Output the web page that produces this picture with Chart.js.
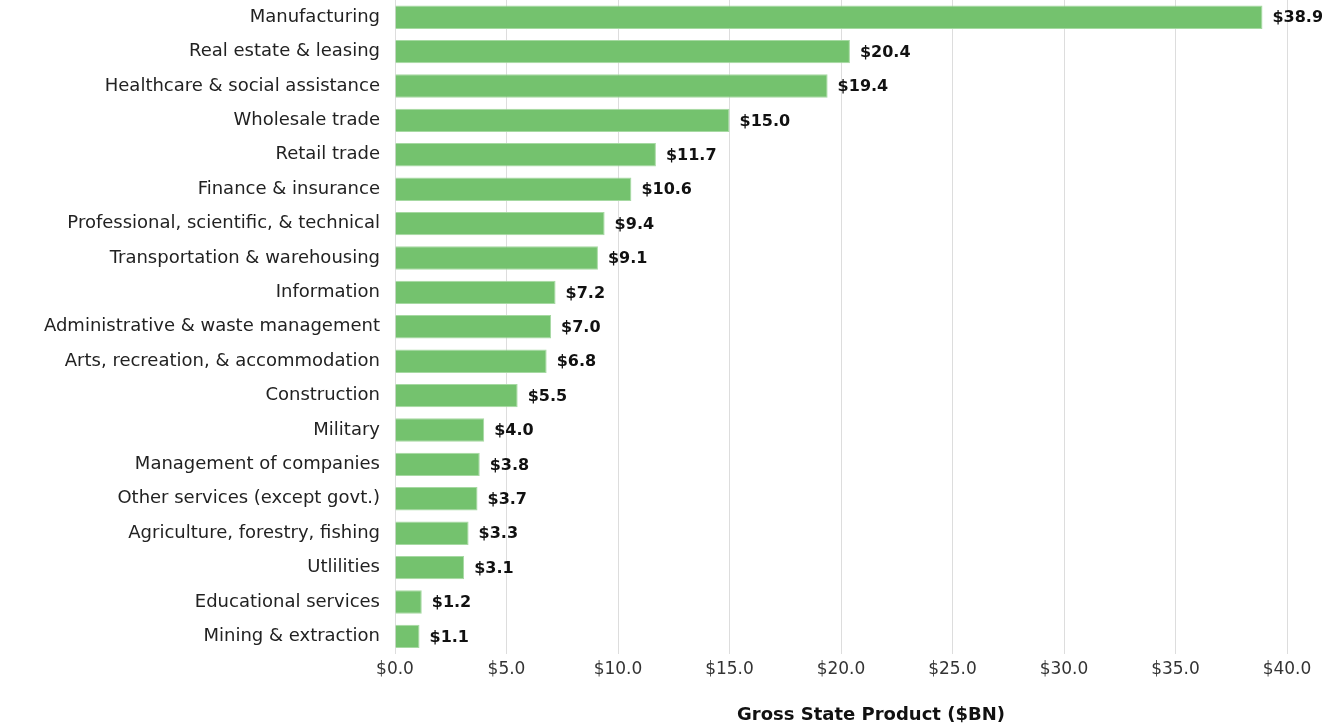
<!DOCTYPE html>
<html>
<head>
<meta charset="utf-8">
<script src="https://cdn.jsdelivr.net/npm/chart.js@4.4.1/dist/chart.umd.min.js"></script>
<style>
    html, body { margin: 0; padding: 0; background: #fff; }
    #wrap { width: 1322px; height: 726px; position: relative; }
</style>
</head>
<body>
<div id="wrap"><canvas id="graficoGsp"></canvas></div>
<script>
const setores = [
    "Manufacturing",
    "Real estate & leasing",
    "Healthcare & social assistance",
    "Wholesale trade",
    "Retail trade",
    "Finance & insurance",
    "Professional, scientific, & technical",
    "Transportation & warehousing",
    "Information",
    "Administrative & waste management",
    "Arts, recreation, & accommodation",
    "Construction",
    "Military",
    "Management of companies",
    "Other services (except govt.)",
    "Agriculture, forestry, fishing",
    "Utlilities",
    "Educational services",
    "Mining & extraction",
];
const valores = [38.9, 20.4, 19.4, 15.0, 11.7, 10.6, 9.4, 9.1, 7.2, 7.0, 6.8, 5.5, 4.0, 3.8, 3.7, 3.3, 3.1, 1.2, 1.1];
const ticksX = [0, 5, 10, 15, 20, 25, 30, 35, 40];
const tituloX = "Gross State Product ($BN)";

const fonte = "'DejaVu Sans', sans-serif";

// rotulos de valor no fim de cada barra
const rotulosBarras = {
    id: "rotulosBarras",
    afterDatasetsDraw(grafico) {
        const ctx = grafico.ctx;
        const meta = grafico.getDatasetMeta(0);
        ctx.save();
        ctx.font = "bold 16px " + fonte;
        ctx.fillStyle = "#111";
        ctx.textAlign = "left";
        ctx.textBaseline = "middle";
        meta.data.forEach((barra, i) => {
            ctx.fillText("$" + valores[i].toFixed(1), barra.x + 10, barra.y + 1);
        });
        ctx.restore();
    },
};

// titulo do eixo x
const tituloEixo = {
    id: "tituloEixo",
    afterDraw(grafico) {
        const ctx = grafico.ctx;
        const area = grafico.chartArea;
        ctx.save();
        ctx.font = "bold 18px " + fonte;
        ctx.fillStyle = "#111";
        ctx.textAlign = "center";
        ctx.textBaseline = "middle";
        ctx.fillText(tituloX, (area.left + area.right) / 2 + 30, grafico.height - 11);
        ctx.restore();
    },
};

const canvasGsp = document.getElementById("graficoGsp");
const graficoGsp = new Chart(canvasGsp, {
    type: "bar",
    data: {
        labels: setores,
        datasets: [
            {
                label: "GSP",
                data: valores,
                backgroundColor: "#74c26e",
                borderColor: "#a6d9a2",
                borderWidth: 1,
                barPercentage: 0.68,
                categoryPercentage: 1.0,
            },
        ],
    },
    options: {
        indexAxis: "y",
        responsive: true,
        maintainAspectRatio: false,
        animation: false,
        layout: { padding: { top: 0, right: 35, bottom: 40, left: 0 } },
        plugins: {
            legend: { display: false },
            tooltip: { enabled: false },
        },
        scales: {
            x: {
                min: 0,
                max: 40,
                afterBuildTicks: (escala) => {
                    escala.ticks = ticksX.map((v) => ({ value: v }));
                },
                ticks: {
                    callback: (v) => "$" + Number(v).toFixed(1),
                    color: "#333",
                    font: { family: fonte, size: 17 },
                    padding: 6,
                    maxRotation: 0,
                },
                grid: { color: "#dddddd", drawTicks: false },
                border: { display: false },
            },
            y: {
                afterFit: (escala) => {
                    escala.width = 395;
                    escala.paddingTop = 0;
                    escala.paddingBottom = 0;
                },
                ticks: {
                    color: "#222",
                    font: { family: fonte, size: 18 },
                    padding: 7,
                },
                grid: { display: false },
                border: { display: false },
            },
        },
    },
    plugins: [rotulosBarras, tituloEixo],
});
</script>
</body>
</html>
